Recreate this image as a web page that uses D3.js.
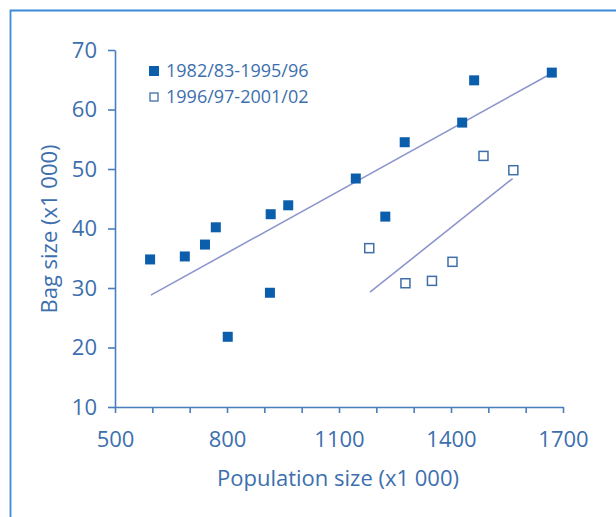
<!DOCTYPE html>
<html>
<head>
<meta charset="utf-8">
<script src="https://cdn.jsdelivr.net/npm/d3@7"></script>
<style>
  html, body { margin: 0; padding: 0; background: #ffffff; }
  svg { display: block; }
</style>
</head>
<body>
<div id="grafico"></div>
<script>
// 1. Configuracion
COLOR_PUNTO  = '#0b5eab'
COLOR_HUECO  = '#3f6ea8'
COLOR_EJE    = '#4a7dbd'
COLOR_TEXTO  = '#3d6fae'
COLOR_LINEA  = '#8e95cc'
COLOR_MARCO  = '#3a8ad6'
FUENTE       = '"Open Sans", "Noto Sans", sans-serif'

ancho_total = 616
alto_total  = 517

margins = { top: 50, left: 115, right: 53, bottom: 110 }
ancho = ancho_total - margins.left - margins.right
alto  = alto_total  - margins.top  - margins.bottom

// 2. Datos
series_nombres = ['1982/83-1995/96', '1996/97-2001/02']

poblacion_1 = [594, 687, 741, 770, 802, 915, 917, 964, 1145, 1224, 1276, 1430, 1462, 1670]
bolsa_1     = [34.8, 35.3, 37.3, 40.2, 21.8, 29.2, 42.4, 43.9, 48.4, 42.0, 54.5, 57.8, 64.9, 66.2]

poblacion_2 = [1181, 1278, 1349, 1404, 1487, 1567]
bolsa_2     = [36.7, 30.8, 31.2, 34.4, 52.2, 49.8]

tendencia_1_x = [596, 1670]
tendencia_1_y = [28.8, 66.1]
tendencia_2_x = [1183, 1565]
tendencia_2_y = [29.3, 48.4]

ticks_x       = [500, 600, 700, 800, 900, 1000, 1100, 1200, 1300, 1400, 1500, 1600, 1700]
etiquetas_x   = [500, 800, 1100, 1400, 1700]
ticks_y       = [10, 20, 30, 40, 50, 60, 70]

svg = d3.select('#grafico').append('svg')
  .attr('width', ancho_total)
  .attr('height', alto_total)

// marco
svg.append('path')
  .attr('d', `M10.5,${alto_total} V10.5 H${ancho_total}`)
  .attr('fill', 'none')
  .attr('stroke', COLOR_MARCO)
  .attr('stroke-width', 1.8)

g = svg.append('g').attr('transform', `translate(${margins.left},${margins.top})`)

fx = d3.scaleLinear().domain([500, 1700]).range([0, ancho])
fy = d3.scaleLinear().domain([10, 70]).range([alto, 0])

// ejes
ejeX = d3.axisBottom(fx)
  .tickValues(ticks_x)
  .tickSize(6)
  .tickSizeOuter(0)
  .tickFormat(d => etiquetas_x.includes(d) ? d : '')
ejeY = d3.axisLeft(fy)
  .tickValues(ticks_y)
  .tickSize(7)
  .tickSizeOuter(0)

gx = g.append('g').attr('transform', `translate(0,${alto})`).call(ejeX)
gy = g.append('g').call(ejeY)

;[gx, gy].forEach(e => {
  e.selectAll('path, line').attr('stroke', COLOR_EJE).attr('stroke-width', 1.6)
  e.selectAll('text')
    .attr('fill', COLOR_TEXTO)
    .style('font-family', FUENTE)
    .style('font-size', '22px')
})
gx.selectAll('text').attr('dy', 0).attr('y', 40)
gy.selectAll('text').attr('x', -18)

// lineas de tendencia
linea = d3.line().x(d => fx(d[0])).y(d => fy(d[1]))
g.append('path')
  .datum(d3.zip(tendencia_1_x, tendencia_1_y))
  .attr('d', linea)
  .attr('fill', 'none')
  .attr('stroke', COLOR_LINEA)
  .attr('stroke-width', 1.6)
g.append('path')
  .datum(d3.zip(tendencia_2_x, tendencia_2_y))
  .attr('d', linea)
  .attr('fill', 'none')
  .attr('stroke', COLOR_LINEA)
  .attr('stroke-width', 1.6)

// puntos
LADO = 10
g.selectAll('rect.lleno')
  .data(d3.zip(poblacion_1, bolsa_1))
  .enter().append('rect')
  .attr('class', 'lleno')
  .attr('x', d => fx(d[0]) - LADO / 2)
  .attr('y', d => fy(d[1]) - LADO / 2)
  .attr('width', LADO)
  .attr('height', LADO)
  .attr('fill', COLOR_PUNTO)

LADO2 = 9
g.selectAll('rect.hueco')
  .data(d3.zip(poblacion_2, bolsa_2))
  .enter().append('rect')
  .attr('class', 'hueco')
  .attr('x', d => fx(d[0]) - LADO2 / 2)
  .attr('y', d => fy(d[1]) - LADO2 / 2)
  .attr('width', LADO2)
  .attr('height', LADO2)
  .attr('fill', '#ffffff')
  .attr('stroke', COLOR_HUECO)
  .attr('stroke-width', 1.5)

// leyenda
leyenda = svg.append('g').attr('transform', 'translate(154,71)')
series_nombres.forEach((nombre, i) => {
  item = leyenda.append('g').attr('transform', `translate(0,${i * 26})`)
  if (i == 0) {
    item.append('rect').attr('x', -5).attr('y', -5).attr('width', 10).attr('height', 10)
      .attr('fill', COLOR_PUNTO)
  } else {
    item.append('rect').attr('x', -4).attr('y', -4).attr('width', 8).attr('height', 8)
      .attr('fill', '#ffffff').attr('stroke', COLOR_HUECO).attr('stroke-width', 1.3)
  }
  item.append('text')
    .attr('x', 12)
    .attr('dy', '0.35em')
    .attr('fill', COLOR_TEXTO)
    .style('font-family', FUENTE)
    .style('font-size', '18px')
    .text(nombre)
})

// titulos de ejes
svg.append('text')
  .attr('x', 338)
  .attr('y', 486)
  .attr('text-anchor', 'middle')
  .attr('fill', COLOR_TEXTO)
  .style('font-family', FUENTE)
  .style('font-size', '22px')
  .text('Population size (x1 000)')

svg.append('text')
  .attr('transform', 'translate(56.5,229) rotate(-90)')
  .attr('text-anchor', 'middle')
  .attr('fill', COLOR_TEXTO)
  .style('font-family', FUENTE)
  .style('font-size', '22px')
  .text('Bag size (x1 000)')
</script>
</body>
</html>
